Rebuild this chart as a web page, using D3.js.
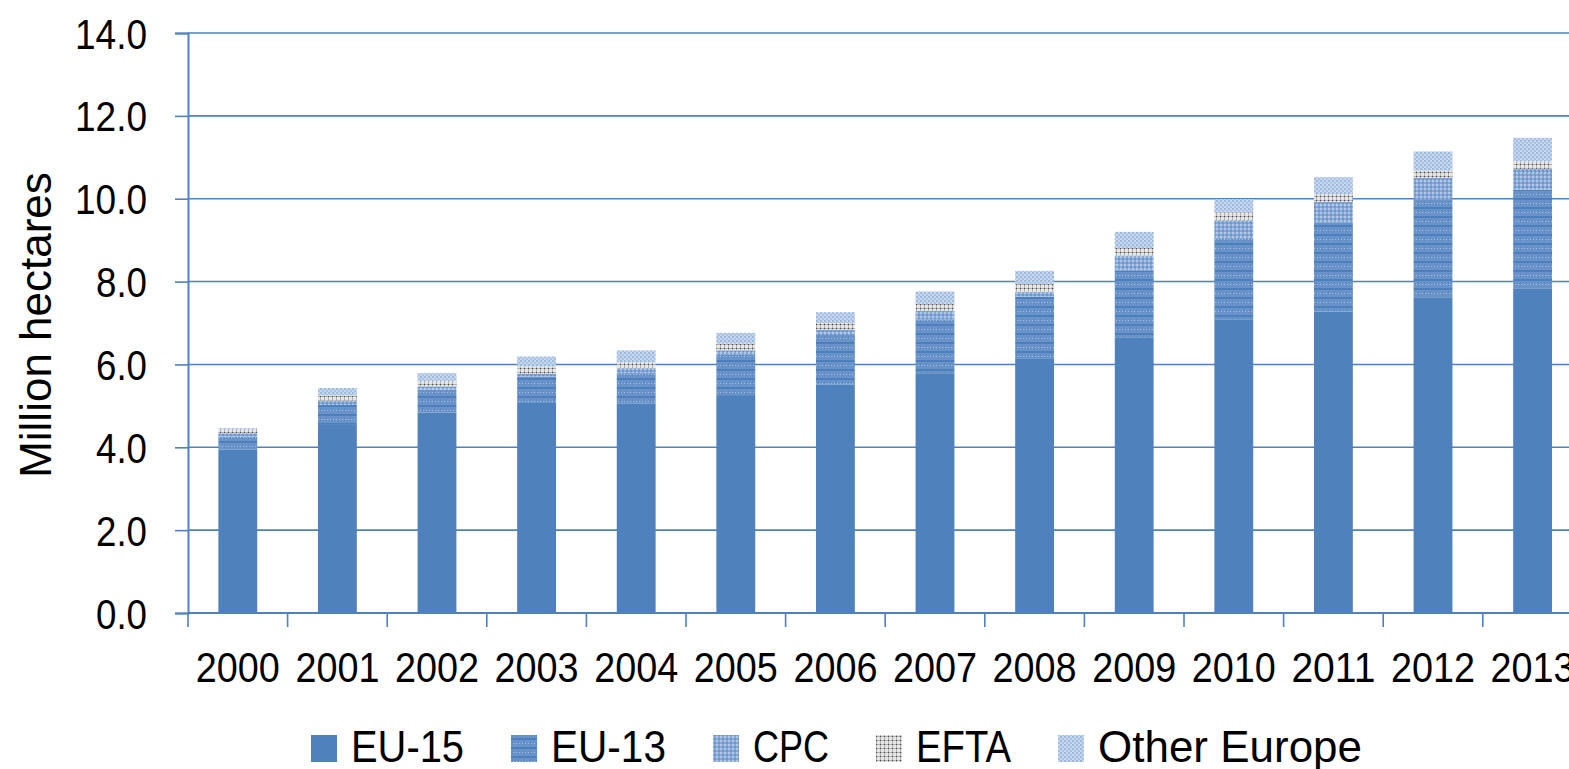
<!DOCTYPE html>
<html>
<head>
<meta charset="utf-8">
<script src="https://cdn.jsdelivr.net/npm/d3@7"></script>
<style>
  body { margin: 0; background: #fff; overflow: hidden; }
  svg { display: block; }
  text { font-family: "Liberation Sans", Arial, sans-serif; fill: #000; }
</style>
</head>
<body>
<svg width="1569" height="769"></svg>
<script>
// years along the x axis
const years = ['2000','2001','2002','2003','2004','2005','2006','2007','2008','2009','2010','2011','2012','2013'];

// million hectares per group
const eu15   = [3.94, 4.54, 4.84, 5.07, 5.05, 5.26, 5.51, 5.77, 6.15, 6.64, 7.09, 7.28, 7.62, 7.83];
const eu13   = [0.32, 0.48, 0.55, 0.64, 0.74, 0.97, 1.20, 1.31, 1.49, 1.63, 1.94, 2.15, 2.36, 2.39];
const cpc    = [0.08, 0.11, 0.08, 0.06, 0.12, 0.11, 0.13, 0.21, 0.11, 0.36, 0.45, 0.49, 0.52, 0.50];
const efta   = [0.10, 0.12, 0.13, 0.18, 0.14, 0.16, 0.16, 0.17, 0.19, 0.18, 0.19, 0.19, 0.18, 0.18];
const otherEu = [0.02, 0.18, 0.19, 0.24, 0.29, 0.26, 0.26, 0.30, 0.32, 0.39, 0.32, 0.41, 0.46, 0.57];

const seriesNames = ['EU-15', 'EU-13', 'CPC', 'EFTA', 'Other Europe'];
const yTicks = [0, 2, 4, 6, 8, 10, 12, 14];

const blue = '#4F81BD';
const svg = d3.select('svg');

// fill patterns, one per series (EU-15 is solid)
const defs = svg.append('defs');

const p13 = defs.append('pattern').attr('id', 'p-eu13').attr('patternUnits', 'userSpaceOnUse')
    .attr('width', 6).attr('height', 9);
p13.append('rect').attr('width', 6).attr('height', 9).attr('fill', '#6a94c9');
p13.append('rect').attr('width', 6).attr('height', 2).attr('fill', '#4d7fbc');
p13.append('rect').attr('x', 0).attr('y', 5).attr('width', 1).attr('height', 1).attr('fill', '#a8c0e2');
p13.append('rect').attr('x', 3).attr('y', 5).attr('width', 1).attr('height', 1).attr('fill', '#a8c0e2');
p13.append('rect').attr('x', 2).attr('y', 3).attr('width', 1).attr('height', 4).attr('fill', '#5a8ac4');

const pcpc = defs.append('pattern').attr('id', 'p-cpc').attr('patternUnits', 'userSpaceOnUse')
    .attr('width', 4).attr('height', 4);
pcpc.append('rect').attr('width', 4).attr('height', 4).attr('fill', '#86a9d7');
pcpc.append('rect').attr('width', 2).attr('height', 2).attr('fill', '#b1c8e8');
pcpc.append('rect').attr('x', 2).attr('y', 2).attr('width', 2).attr('height', 2).attr('fill', '#6e97cb');

const pefta = defs.append('pattern').attr('id', 'p-efta').attr('patternUnits', 'userSpaceOnUse')
    .attr('width', 4).attr('height', 4);
pefta.append('rect').attr('width', 4).attr('height', 4).attr('fill', '#e6e6e6');
pefta.append('rect').attr('width', 4).attr('height', 1).attr('fill', '#b0b0b0');
pefta.append('rect').attr('width', 1).attr('height', 4).attr('fill', '#b0b0b0');
pefta.append('rect').attr('width', 1).attr('height', 1).attr('fill', '#4a4a4a');

const pother = defs.append('pattern').attr('id', 'p-other').attr('patternUnits', 'userSpaceOnUse')
    .attr('width', 4).attr('height', 4);
pother.append('rect').attr('width', 4).attr('height', 4).attr('fill', '#c6d7ee');
pother.append('rect').attr('width', 2).attr('height', 2).attr('fill', '#9cb8df');
pother.append('rect').attr('x', 2).attr('y', 2).attr('width', 2).attr('height', 2).attr('fill', '#a9c2e4');

const fills = [blue, 'url(#p-eu13)', 'url(#p-cpc)', 'url(#p-efta)', 'url(#p-other)'];

// scales
const plotLeft = 188, plotTop = 33, plotBottom = 613, step = 99.6;
const x = d3.scaleBand().domain(years).range([plotLeft, plotLeft + step * years.length])
    .paddingInner(0.61).paddingOuter(0.305);
const y = d3.scaleLinear().domain([0, 14]).range([plotBottom, plotTop]);

// the original font is narrower than Liberation Sans, so squeeze texts to its widths
const digitW = 21, dotW = 9;
const numWidth = s => s.split('').reduce((w, c) => w + (c === '.' ? dotW : digitW), 0);

// gridlines
svg.append('g').selectAll('line').data(yTicks.slice(1)).join('line')
    .attr('x1', plotLeft).attr('x2', 1569)
    .attr('y1', d => y(d)).attr('y2', d => y(d))
    .attr('stroke', blue).attr('stroke-width', 1.6);

// stacked bars
const table = years.map((yr, i) => ({
  year: yr, 'EU-15': eu15[i], 'EU-13': eu13[i], 'CPC': cpc[i], 'EFTA': efta[i], 'Other Europe': otherEu[i]
}));
const stacked = d3.stack().keys(seriesNames)(table);

svg.append('g').selectAll('g').data(stacked).join('g')
    .attr('fill', (d, i) => fills[i])
    .selectAll('rect').data(d => d).join('rect')
    .attr('x', d => x(d.data.year))
    .attr('width', x.bandwidth())
    .attr('y', d => y(d[1]))
    .attr('height', d => y(d[0]) - y(d[1]));

// y axis
const fmt = d3.format('.1f');
const yAxis = svg.append('g').attr('transform', `translate(${plotLeft},0)`)
    .call(d3.axisLeft(y).tickValues(yTicks).tickFormat(fmt).tickSize(13).tickPadding(28));
yAxis.select('.domain').attr('stroke', blue).attr('stroke-width', 2);
yAxis.selectAll('.tick line').attr('stroke', blue).attr('stroke-width', 1.6);
yAxis.selectAll('.tick text')
    .style('font-family', '"Liberation Sans", sans-serif')
    .attr('font-size', 42).attr('fill', '#000').attr('dy', '0.36em')
    .attr('textLength', d => numWidth(fmt(d)))
    .attr('lengthAdjust', 'spacingAndGlyphs');

// x axis line and ticks between categories
svg.append('line').attr('x1', plotLeft).attr('x2', 1569).attr('y1', plotBottom).attr('y2', plotBottom)
    .attr('stroke', blue).attr('stroke-width', 2);
svg.append('g').selectAll('line').data(d3.range(years.length + 1)).join('line')
    .attr('x1', i => plotLeft + i * x.step()).attr('x2', i => plotLeft + i * x.step())
    .attr('y1', plotBottom).attr('y2', plotBottom + 14)
    .attr('stroke', blue).attr('stroke-width', 1.6);

svg.append('g').selectAll('text').data(years).join('text')
    .attr('x', d => x(d) + x.bandwidth() / 2)
    .attr('y', 682)
    .attr('text-anchor', 'middle')
    .attr('font-size', 42)
    .attr('textLength', d => numWidth(d))
    .attr('lengthAdjust', 'spacingAndGlyphs')
    .text(d => d);

// y axis title
svg.append('text')
    .attr('transform', 'translate(51,325) rotate(-90)')
    .attr('text-anchor', 'middle')
    .attr('font-size', 44)
    .text('Million hectares');

// legend
const legendTextW = [113, 115, 76, 95, 264];
const legend = svg.append('g');
let lx = 311;
seriesNames.forEach((name, i) => {
  legend.append('rect').attr('x', lx).attr('y', 735).attr('width', 26).attr('height', 27).attr('fill', fills[i]);
  legend.append('text').attr('x', lx + 40).attr('y', 762).attr('font-size', 44)
      .attr('textLength', legendTextW[i]).attr('lengthAdjust', 'spacingAndGlyphs')
      .text(name);
  lx += 40 + legendTextW[i] + 47;
});
</script>
</body>
</html>
